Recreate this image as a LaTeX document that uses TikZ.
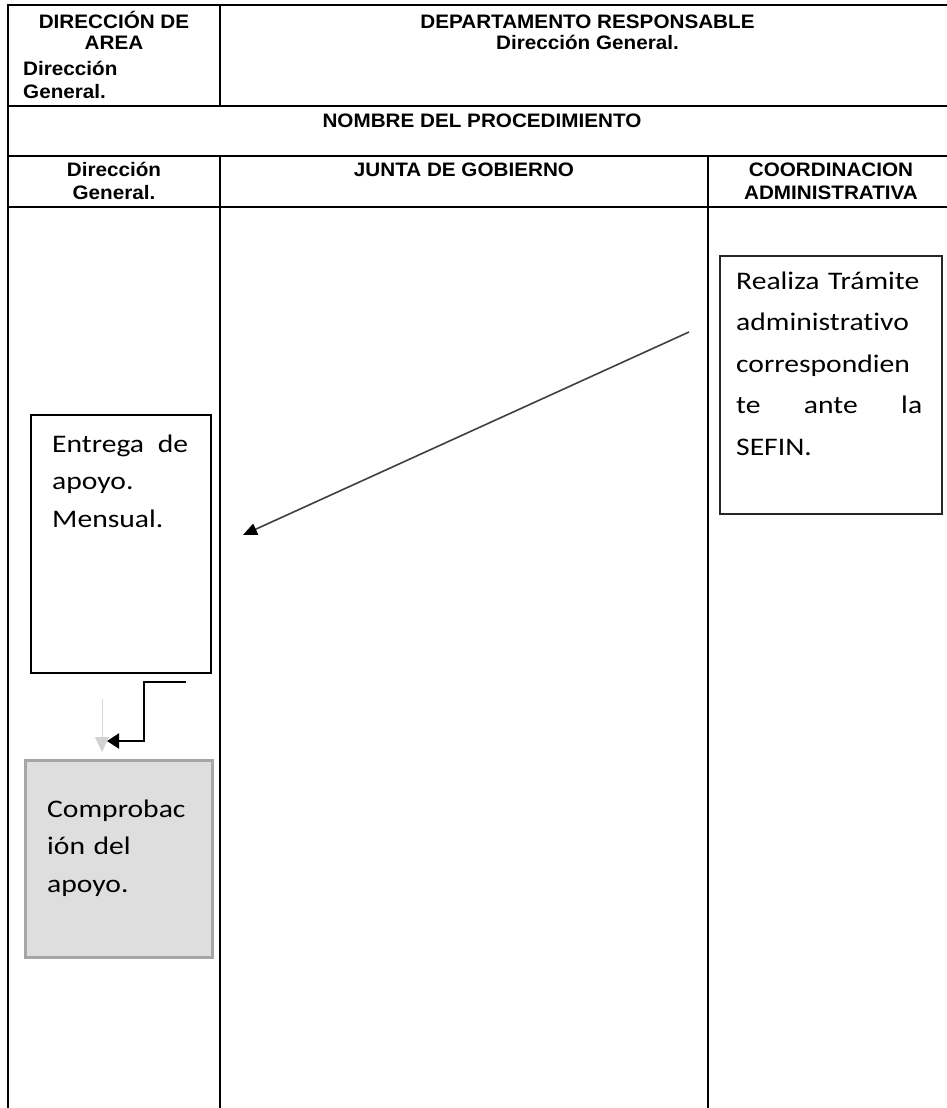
\documentclass[tikz,border=0pt]{standalone}
\usepackage{fontspec}
\setmainfont{Carlito}
\newfontfamily\bodyf{Carlito}[FakeStretch=1.17, RawFeature={-liga}]
\newfontfamily\hdrf{Liberation Sans}[FakeStretch=1.06]
\usetikzlibrary{arrows.meta}
\newcommand{\spreadline}[1]{\leavevmode\hbox to\linewidth{#1}}
\begin{document}
\begin{tikzpicture}[x=1pt,y=-1pt,
  tbl/.style={line width=2pt},
  hd/.style={font=\hdrf\bfseries\fontsize{19.5}{23}\selectfont, inner sep=0pt, anchor=base},
  hdl/.style={hd, anchor=base west},
  stepbox/.style={draw=black, line width=2pt, inner sep=0pt, anchor=north west},
  graybox/.style={draw=black!35, fill=black!13, line width=2.5pt, inner sep=0pt, anchor=north west},
  bodytxt/.style={inner sep=0pt, anchor=base west, align=left},
]
\useasboundingbox (0,0) rectangle (947,1108);
\fill[white] (0,0) rectangle (947,1108);
% table grid
\draw[tbl] (8,5.5) -- (947,5.5);
\draw[tbl] (8,105.5) -- (947,105.5);
\draw[tbl] (8,155.5) -- (947,155.5);
\draw[tbl] (8,207) -- (947,207);
\draw[tbl] (8,4.5) -- (8,1108);
\draw[tbl] (220,5.5) -- (220,105.5);
\draw[tbl] (220,155.5) -- (220,1108);
\draw[tbl] (708,155.5) -- (708,1108);
% header texts
\node[hd] (h1a) at (114,29) {DIRECCIÓN DE};
\node[hd] (h1b) at (114,50) {AREA};
\node[hdl] (h1c) at (23,76) {Dirección};
\node[hdl] (h1d) at (23,99) {General.};
\node[hd] (h2a) at (587.5,29) {DEPARTAMENTO RESPONSABLE};
\node[hd] (h2b) at (587.5,50) {Dirección General.};
\node[hd] (h3) at (482,127) {NOMBRE DEL PROCEDIMIENTO};
\node[hd] (c1a) at (114,176.7) {Dirección};
\node[hd] (c1b) at (114,199.3) {General.};
\node[hd] (c2) at (464,176.7) {JUNTA DE GOBIERNO};
\node[hd] (c3a) at (831,176.7) {COORDINACION};
\node[hd] (c3b) at (831,199.3) {ADMINISTRATIVA};
% boxes
\node[stepbox, draw=black!85, line width=1.5pt, minimum width=222pt, minimum height=258pt] (tramite) at (719,255) {};
\node[bodytxt, text width=186pt, font=\bodyf\fontsize{25.3}{41.6}\selectfont] (tramitetxt) at (736,289)
  {Realiza Trámite\\ administrativo\\ correspondien\\ \spreadline{te\hfill ante\hfill la}\\ SEFIN.};
\node[stepbox, minimum width=180pt, minimum height=258pt] (entrega) at (30,414) {};
\node[bodytxt, text width=136pt, font=\bodyf\fontsize{25.3}{37.7}\selectfont] (entregatxt) at (52,452)
  {\spreadline{Entrega\hfill de}\\ apoyo.\\ Mensual.};
\node[graybox, minimum width=187pt, minimum height=197pt] (compro) at (24,759) {};
\node[bodytxt, text width=140pt, font=\bodyf\fontsize{25.3}{37.7}\selectfont] (comprotxt) at (47,817)
  {Comprobac\\ ión del\\ apoyo.};
% connectors
\coordinate (d1) at (689,332);
\coordinate (d2) at (243,535);
\draw[draw=black!75, line width=1.6pt, -{Triangle[length=14pt,width=12pt,color=black]}] (d1) -- (d2);
\coordinate (e0) at (186,682);
\coordinate (ec) at (144,741);
\coordinate (e3) at (107,741);
\draw[black, line width=2pt, -{Triangle[length=12pt,width=15pt]}] (e0) -| (ec) -- (e3);
\coordinate (g0) at (102,699);
\coordinate (g1) at (102,752);
\draw[draw=black!15, line width=1pt, -{Triangle[length=15pt,width=14pt,color=black!18]}] (g0) -- (g1);
\end{tikzpicture}
\end{document}
